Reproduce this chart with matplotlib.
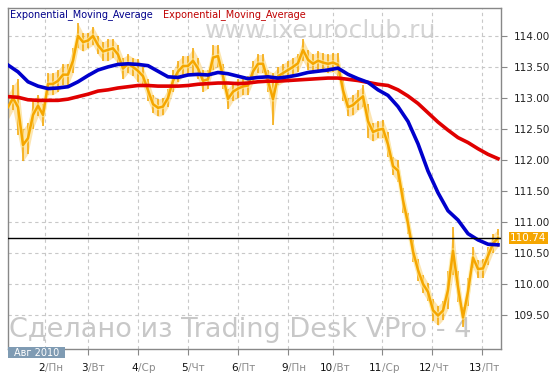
import numpy as np
import matplotlib
import matplotlib.pyplot as plt
from matplotlib.patches import Rectangle

matplotlib.use("Agg")

# USD/JPY-like bars, one sample per step of the time index
price_high = [113.05, 113.2, 113.3, 112.5, 112.6, 112.95, 113.05, 112.9, 113.4, 113.4,
              113.45, 113.55, 113.55, 113.8, 114.2, 114.05, 114.05, 114.15, 114.0, 113.9,
              113.95, 113.95, 113.85, 113.65, 113.7, 113.65, 113.62, 113.5, 113.3, 113.05,
              112.98, 113.0, 113.15, 113.45, 113.6, 113.68, 113.68, 113.8, 113.65, 113.45,
              113.45, 113.85, 113.85, 113.55, 113.15, 113.25, 113.3, 113.32, 113.35, 113.6,
              113.7, 113.7, 113.45, 113.4, 113.5, 113.55, 113.6, 113.65, 113.7, 113.95,
              113.78, 113.7, 113.75, 113.72, 113.7, 113.72, 113.72, 113.3, 113.0, 113.05,
              113.12, 113.2, 112.9, 112.6, 112.62, 112.65, 112.45, 112.05, 112.0, 111.55,
              111.15, 110.7, 110.4, 110.15, 110.02, 109.75, 109.65, 109.72, 110.2, 110.92,
              110.2, 109.62, 110.1, 110.6, 110.38, 110.4, 110.6, 110.8, 110.88]
price_low = [112.65, 112.8, 112.4, 111.98, 112.1, 112.5, 112.7, 112.55, 113.05, 113.05,
             113.1, 113.2, 113.2, 113.4, 113.8, 113.75, 113.8, 113.85, 113.7, 113.6,
             113.6, 113.65, 113.55, 113.3, 113.4, 113.35, 113.25, 113.2, 112.95, 112.75,
             112.7, 112.72, 112.85, 113.1, 113.25, 113.35, 113.35, 113.4, 113.3, 113.1,
             113.15, 113.45, 113.5, 113.15, 112.82, 112.95, 113.0, 113.05, 113.05, 113.25,
             113.4, 113.4, 113.1, 112.56, 113.2, 113.25, 113.3, 113.35, 113.42, 113.6,
             113.45, 113.4, 113.45, 113.42, 113.4, 113.42, 113.35, 112.95, 112.7, 112.72,
             112.8, 112.85, 112.35, 112.3, 112.35, 112.35, 112.05, 111.75, 111.65, 111.15,
             110.8, 110.35, 110.05, 109.85, 109.72, 109.4, 109.33, 109.42, 109.6, 110.15,
             109.7, 109.3, 109.65, 110.25, 110.1, 110.1, 110.3, 110.5, 110.6]
last_price = 110.74

# moving averages, one value every second step
ema_fast = [113.53, 113.42, 113.26, 113.19, 113.15, 113.16, 113.18, 113.26, 113.36, 113.45,
            113.5, 113.54, 113.55, 113.54, 113.52, 113.43, 113.34, 113.33, 113.37, 113.38,
            113.37, 113.41, 113.39, 113.35, 113.31, 113.33, 113.34, 113.32, 113.34, 113.37,
            113.41, 113.43, 113.45, 113.48, 113.38, 113.31, 113.25, 113.13, 113.04, 112.86,
            112.62, 112.26, 111.82, 111.47, 111.18, 111.03, 110.81, 110.71, 110.64, 110.63]
ema_slow = [113.02, 113.01, 112.97, 112.96, 112.96, 112.96, 112.98, 113.02, 113.06, 113.11,
            113.13, 113.16, 113.18, 113.2, 113.2, 113.19, 113.19, 113.19, 113.2, 113.22,
            113.23, 113.24, 113.24, 113.23, 113.24, 113.26, 113.27, 113.27, 113.28, 113.29,
            113.3, 113.31, 113.32, 113.32, 113.3, 113.28, 113.25, 113.22, 113.2, 113.13,
            113.03, 112.91, 112.76, 112.61, 112.48, 112.36, 112.28, 112.18, 112.09, 112.02]

day_ticks = [7.4, 16, 26, 36, 46, 56, 65, 74.8, 84.8, 94.8]
day_nums = ["2", "3", "4", "5", "6", "9", "10", "11", "12", "13"]
day_names = ["Пн", "Вт", "Ср", "Чт", "Пт", "Пн", "Вт", "Ср", "Чт", "Пт"]
y_ticks = [109.5, 110.0, 110.5, 111.0, 111.5, 112.0, 112.5, 113.0, 113.5, 114.0]

W, H = 555, 380
fig = plt.figure(figsize=(W / 100, H / 100), dpi=100)
fig.patch.set_facecolor("white")

ax = fig.add_axes([8 / W, 1 - 349 / H, 493 / W, 341 / H])
ax.patch.set_alpha(0)

# watermarks behind the data, clipped to the plot frame
ax.text(197 / 493, 1 - 30 / 341, "www.ixeuroclub.ru", transform=ax.transAxes,
        family="DejaVu Sans", fontsize=18, color="#d4d4d4", zorder=0, clip_on=True)
ax.text(1 / 493, 1 - 329 / 341, "Сделано из Trading Desk VPro - 4", transform=ax.transAxes,
        family="DejaVu Sans", fontsize=19.5, color="#c8c8c8", zorder=0, clip_on=True)

hi = np.array(price_high)
lo = np.array(price_low)
t = np.arange(len(hi))
mid = (hi + lo) / 2
t_ema = np.arange(0, 2 * len(ema_fast), 2)

ax.fill_between(t, lo, hi, color="#f7b320", alpha=0.35, lw=0, zorder=2)
ax.vlines(t, lo, hi, color="#f5a600", lw=1.1, zorder=2)
ax.plot(t, mid, color="#fff0a8", lw=3.5, alpha=0.6, zorder=2)
ax.plot(t, mid, color="#f5a600", lw=1.8, zorder=3)

ax.plot(t_ema, ema_slow, color="#e00000", lw=2.6, zorder=4)
ax.plot(t_ema, ema_fast, color="#0000cc", lw=2.6, zorder=5)

ax.axhline(last_price, color="black", lw=1, zorder=6)

ax.set_xlim(0, 98.6)
ax.set_ylim(108.95, 114.45)

ax.grid(True, linestyle=(0, (3, 3)), color="#c8c8c8", lw=0.8)
ax.set_axisbelow(True)
for s in ax.spines.values():
    s.set_color("#888888")
    s.set_linewidth(1)

ax.yaxis.tick_right()
ax.set_yticks(y_ticks)
ax.set_yticklabels([f"{v:.2f}" for v in y_ticks])
ax.tick_params(axis="y", direction="out", length=4, color="#888888",
               labelcolor="#222222", labelsize=7.5, pad=5)
ax.set_xticks(day_ticks)
ax.set_xticklabels([])
ax.tick_params(axis="x", direction="out", length=4, color="#888888")

for x, n, d in zip(day_ticks, day_nums, day_names):
    ax.annotate(n, xy=(x, 0), xycoords=("data", "axes fraction"),
                xytext=(0, -19), textcoords="offset pixels",
                ha="right", va="center", fontsize=7.5, color="#111111")
    ax.annotate("/" + d, xy=(x, 0), xycoords=("data", "axes fraction"),
                xytext=(0, -19), textcoords="offset pixels",
                ha="left", va="center", fontsize=7.5, color="#8a8a8a")

# last price tag
ax.annotate(f"{last_price:.2f}", xy=(1, last_price), xycoords=("axes fraction", "data"),
            xytext=(9, 0), textcoords="offset pixels", ha="left", va="center",
            fontsize=7.5, color="white",
            bbox=dict(boxstyle="square,pad=0.12", fc="#f5a600", ec="none"))

# month box
fig.patches.append(Rectangle((8 / W, 1 - 358 / H), 57 / W, 11 / H,
                             transform=fig.transFigure, fc="#7f9bb3", ec="none", zorder=10))
fig.text(36.5 / W, 1 - 352.5 / H, "Авг 2010", ha="center", va="center",
         fontsize=7, color="white", zorder=11)

# legend texts
fig.text(10 / W, 1 - 14.5 / H, "Exponential_Moving_Average", ha="left", va="center",
         fontsize=7, color="#00008b")
fig.text(163 / W, 1 - 14.5 / H, "Exponential_Moving_Average", ha="left", va="center",
         fontsize=7, color="#c00000")

fig.savefig("out.png", dpi=100)
